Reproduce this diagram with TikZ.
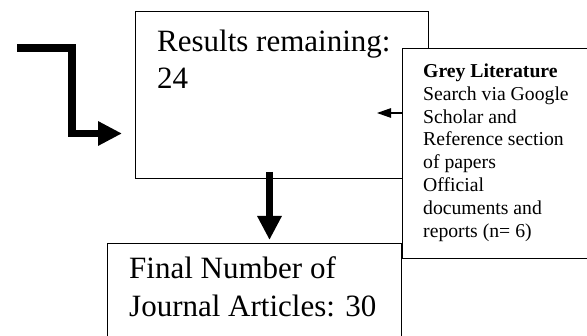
\documentclass[tikz,border=0pt]{standalone}
\usepackage{fontspec}
\setmainfont{Liberation Serif}
\usetikzlibrary{arrows.meta}
\begin{document}
\begin{tikzpicture}[x=1pt,y=-1pt,
  box/.style={draw=black,line width=1.2pt,fill=white,inner sep=0pt,anchor=north west},
  bigtext/.style={anchor=north west,inner sep=0pt,align=left,font=\fontsize{31}{37.4}\selectfont},
  smalltext/.style={anchor=north west,inner sep=0pt,align=left,font=\fontsize{19.7}{22.9}\selectfont},
  fatarrow/.style={line width=7.8pt,-{Triangle[length=24pt,width=23pt]}},
  thinarrow/.style={line width=1.2pt,-{Triangle[length=14pt,width=9.5pt]}}]
\clip (0,0) rectangle (587,336);
\fill[white] (0,0) rectangle (587,336);
% boxes
\node[box,minimum width=293pt,minimum height=167pt] (res) at (135,11) {};
\node[box,minimum width=294pt,minimum height=110pt] (final) at (107,243) {};
\node[box,minimum width=190pt,minimum height=210pt] (grey) at (402,48) {};
% texts
\node[bigtext] (restext) at (157,29.6) {Results remaining:\\24};
\node[bigtext] (finaltext) at (129,256.9) {Final Number of\\Journal Articles: 30};
\node[smalltext] (greytext) at (423,63.4) {\textbf{Grey Literature}\\Search via Google\\Scholar and\\Reference section\\of papers\\Official\\documents and\\reports (n= 6)};
% connectors
\coordinate (e0) at (17,48);
\coordinate (etip) at (122,133.5);
\draw[fatarrow,line join=miter] (e0) -- (72,48) |- (etip);
\coordinate (d0) at (269.5,172);
\coordinate (dtip) at (269.5,240);
\draw[fatarrow] (d0) -- (dtip);
\coordinate (g0) at (402,113);
\coordinate (gtip) at (377,113);
\draw[thinarrow] (g0) -- (gtip);
\end{tikzpicture}
\end{document}
